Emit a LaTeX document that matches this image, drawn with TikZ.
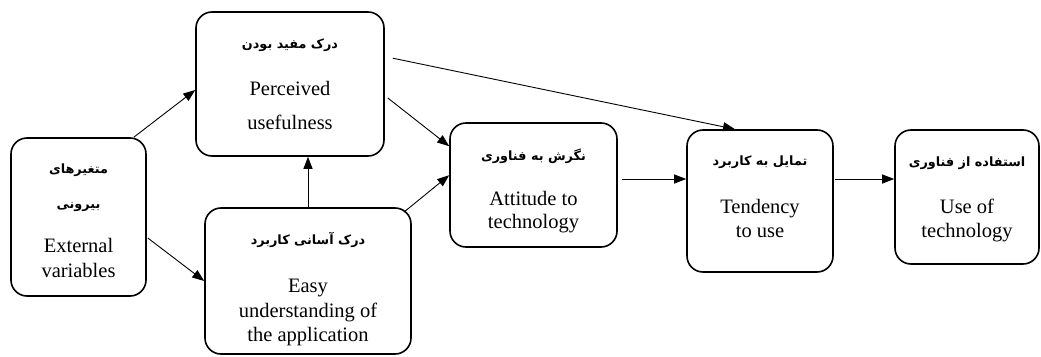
\documentclass[tikz,border=0pt]{standalone}
\usepackage{fontspec}
\setmainfont{Liberation Serif}
\newfontfamily\fa[Script=Arabic]{DejaVu Sans}
\TeXXeTstate=1
\usetikzlibrary{arrows.meta,calc}
\tikzset{
  box/.style={draw=black, line width=1.6pt, rounded corners=16pt, minimum width=#1, inner sep=0pt},
  en/.style={anchor=base, inner sep=0pt, font=\fontsize{20.5}{22}\selectfont},
  pe/.style={anchor=base, inner sep=0pt, font=\fa\bfseries\fontsize{12.8}{15}\selectfont},
  conn/.style={line width=0.9pt, -{Triangle[length=12pt,width=9pt]}}
}
\begin{document}
\begin{tikzpicture}[x=1pt,y=-1pt]
\useasboundingbox (0,0) rectangle (1041,356);
% boxes
\node[box=135pt, minimum height=158pt] (ext) at (78.5,217) {};
\node[box=188pt, minimum height=144pt] (pu) at (290,84) {};
\node[box=206pt, minimum height=146pt] (eu) at (308,281) {};
\node[box=167pt, minimum height=124pt] (at) at (533.5,185) {};
\node[box=146pt, minimum height=142pt] (td) at (760,201) {};
\node[box=144pt, minimum height=134pt] (us) at (967,197) {};
% texts
\node[pe] (extfa1) at (78.5,173) {\beginR متغیرهای\endR};
\node[pe] (extfa2) at (78.5,208) {\beginR بیرونی\endR};
\node[en] (exten1) at (78.5,252) {External};
\node[en] (exten2) at (78.5,277) {variables};
\node[pe] (pufa) at (290,48) {\beginR درک مفید بودن\endR};
\node[en] (puen1) at (290,95) {Perceived};
\node[en] (puen2) at (290,129) {usefulness};
\node[pe] (eufa) at (308,244) {\beginR درک آسانی کاربرد\endR};
\node[en] (euen1) at (308,292) {Easy};
\node[en] (euen2) at (308,317) {understanding of};
\node[en] (euen3) at (308,341) {the application};
\node[pe] (atfa) at (533.5,160) {\beginR نگرش به فناوری\endR};
\node[en] (aten1) at (533.5,205) {Attitude to};
\node[en] (aten2) at (533.5,228) {technology};
\node[pe] (tdfa) at (760,165) {\beginR تمایل به کاربرد\endR};
\node[en] (tden1) at (760,213) {Tendency};
\node[en] (tden2) at (760,237) {to use};
\node[pe] (usfa) at (967,166) {\beginR استفاده از فناوری\endR};
\node[en] (usen1) at (967,213) {Use of};
\node[en] (usen2) at (967,237) {technology};
% connectors
\draw[conn] ($(ext.north east)+(-13,0)$) -- ($(pu.west)+(0,6)$);
\draw[conn] ($(ext.east)+(1,21)$) -- (eu.west);
\draw[conn] (eu.north) -- (eu.north |- pu.south);
\draw[conn] ($(pu.east)+(3,14)$) -- ($(at.north west)+(0,24)$);
\draw[conn] ($(eu.north east)+(-8,5)$) -- ($(at.north west)+(0,53)$);
\draw[conn] ($(pu.north east)+(8,47)$) -- ($(td.north)+(-25,0)$);
\draw[conn] ($(at.east)+(4,-6)$) -- ($(td.west)+(0,-22)$);
\draw[conn] ($(td.east)+(1,-22)$) -- ($(us.west)+(0,-18)$);
\end{tikzpicture}
\end{document}
